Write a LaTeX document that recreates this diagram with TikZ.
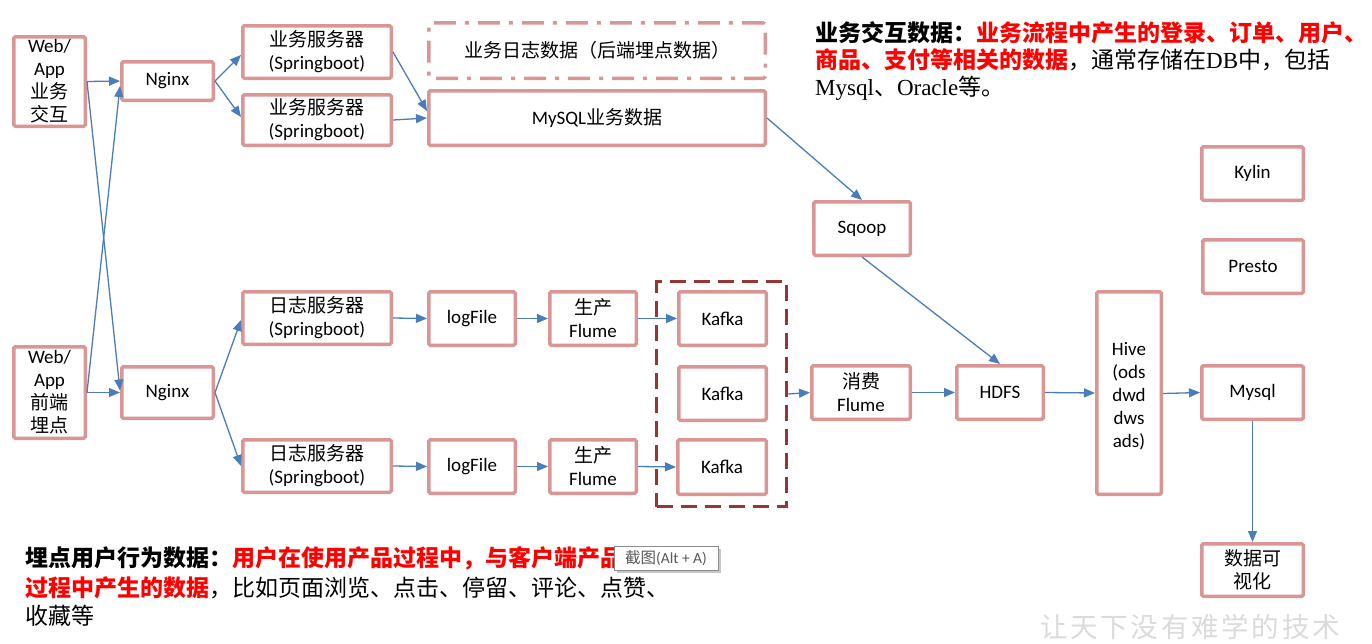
\documentclass[tikz,border=0pt]{standalone}
\usepackage{fontspec}
\setmainfont{Carlito}
\newfontfamily\cjk{Noto Sans CJK SC}
\newfontfamily\serifl{Liberation Serif}
\newfontfamily\wmfont[LetterSpace=10]{Noto Sans CJK SC}
\usetikzlibrary{arrows.meta}
\definecolor{boxpink}{HTML}{D99694}
\definecolor{arrblue}{HTML}{4A7EBB}
\definecolor{kafkared}{HTML}{953735}
\tikzset{
  box/.style={draw=boxpink, line width=3.5pt, fill=white, rounded corners=1.5pt,
    align=center, inner sep=0pt, font=\fontsize{19}{23}\selectfont},
  conn/.style={draw=arrblue, line width=1.3pt, -{Triangle[length=11pt,width=9pt]}},
  desc/.style={anchor=base west, inner sep=0pt, font=\fontsize{23}{27}\selectfont\cjk},
}
\begin{document}
\begin{tikzpicture}[x=1pt,y=-1pt]
\fill[white] (0,0) rectangle (1372,643);
\useasboundingbox (0,0) rectangle (1372,643);

% group box
\node[draw=kafkared, line width=3.5pt, dash pattern=on 16pt off 8pt, minimum width=130pt, minimum height=225pt, inner sep=0pt] (kgroup) at (721.5,394) {};

% top row
\node[box, minimum width=71.5pt, minimum height=89.5pt] (web1) at (49.5,81.5) {Web/\\App\\{\cjk 业务}\\{\cjk 交互}};
\node[box, minimum width=91.5pt, minimum height=38.5pt] (nginx1) at (167.5,81) {Nginx};
\node[box, minimum width=148.5pt, minimum height=52.5pt] (srv1) at (317,52) {{\cjk 业务服务器}\\(Springboot)};
\node[box, minimum width=148.5pt, minimum height=50.5pt] (srv2) at (317,120) {{\cjk 业务服务器}\\(Springboot)};
\node[box, dash pattern=on 22pt off 9pt on 4pt off 9pt, minimum width=336.5pt, minimum height=55.5pt] (bizlog) at (597,50.5) {{\cjk 业务日志数据（后端埋点数据）}};
\node[box, minimum width=336.5pt, minimum height=54.5pt] (bizdb) at (597,118) {MySQL{\cjk 业务数据}};
\node[box, minimum width=96.5pt, minimum height=53.5pt] (sqoop) at (862,228.5) {Sqoop};
\node[box, minimum width=101.5pt, minimum height=53.5pt] (kylin) at (1252.5,173.5) {Kylin};
\node[box, minimum width=100.5pt, minimum height=53.5pt] (presto) at (1253,266.5) {Presto};

% bottom rows
\node[box, minimum width=71.5pt, minimum height=91.5pt] (web2) at (49.5,392.5) {Web/\\App\\{\cjk 前端}\\{\cjk 埋点}};
\node[box, minimum width=91.5pt, minimum height=51.5pt] (nginx2) at (167.5,392.5) {Nginx};
\node[box, minimum width=148.5pt, minimum height=52.5pt] (log1) at (317,318) {{\cjk 日志服务器}\\(Springboot)};
\node[box, minimum width=148.5pt, minimum height=52.5pt] (log2) at (317,466) {{\cjk 日志服务器}\\(Springboot)};
\node[box, minimum width=86.5pt, minimum height=53.5pt] (lf1) at (472,318.5) {logFile};
\node[box, minimum width=86.5pt, minimum height=53.5pt] (lf2) at (472,466.5) {logFile};
\node[box, minimum width=86.5pt, minimum height=53.5pt] (fl1) at (593,318.5) {{\cjk 生产}\\Flume};
\node[box, minimum width=86.5pt, minimum height=53.5pt] (fl2) at (593,466.5) {{\cjk 生产}\\Flume};
\node[box, minimum width=87.5pt, minimum height=53.5pt] (k1) at (722.5,318.5) {Kafka};
\node[box, minimum width=87.5pt, minimum height=53.5pt] (k2) at (722.5,393.5) {Kafka};
\node[box, minimum width=88.5pt, minimum height=54.5pt] (k3) at (722,467) {Kafka};
\node[box, minimum width=98.5pt, minimum height=53.5pt] (xf) at (861,392.5) {{\cjk 消费}\\Flume};
\node[box, minimum width=86.5pt, minimum height=53.5pt] (hdfs) at (1000,392.5) {HDFS};
\node[box, minimum width=64.5pt, minimum height=202.5pt] (hive) at (1129,393) {\rule{0pt}{19pt}Hive\\(ods\\dwd\\dws\\ads)};
\node[box, minimum width=101.5pt, minimum height=53.5pt] (mysql) at (1252.5,392.5) {Mysql};
\node[box, minimum width=101.5pt, minimum height=52.5pt] (vis) at (1252.5,570) {{\cjk 数据可}\\{\cjk 视化}};

% connectors
\draw[conn] (web1.east) -- (nginx1.west);
\draw[conn] (web1.east) -- ([yshift=2pt]nginx2.west);
\draw[conn] (web2.east) -- (nginx2.west);
\draw[conn] (web2.east) -- ([yshift=-5pt]nginx1.west);
\draw[conn] (nginx1.east) -- ([yshift=-3pt]srv1.west);
\draw[conn] (nginx1.east) -- ([yshift=3pt]srv2.west);
\draw[conn] (srv1.east) -- ([yshift=7pt]bizdb.west);
\draw[conn] (srv2.east) -- (bizdb.west);
\draw[conn] (bizdb.east) -- (sqoop.north);
\draw[conn] (sqoop.south) -- (hdfs.north);
\draw[conn] (nginx2.east) -- ([yshift=-2pt]log1.west);
\draw[conn] (nginx2.east) -- (log2.west);
\draw[conn] (log1.east) -- (lf1.west);
\draw[conn] (lf1.east) -- (fl1.west);
\draw[conn] (fl1.east) -- (k1.west);
\draw[conn] (log2.east) -- (lf2.west);
\draw[conn] (lf2.east) -- (fl2.west);
\draw[conn] (fl2.east) -- (k3.west);
\draw[conn] (kgroup.east) -- (xf.west);
\draw[conn] (xf.east) -- (hdfs.west);
\draw[conn] (hdfs.east) -- (hive.west);
\draw[conn] ([yshift=-0.5pt]hive.east) -- (mysql.west);
\draw[conn] (mysql.south) -- (vis.north);

% descriptions
\node[desc] (t1) at (815,41) {\bfseries 业务交互数据：\textcolor{red}{业务流程中产生的登录、订单、用户、}};
\node[desc] (t2) at (815,68) {\textcolor{red}{\bfseries 商品、支付等相关的数据}，通常存储在{\serifl DB}中，包括};
\node[desc] (t3) at (815,95) {{\serifl Mysql}、{\serifl Oracle}等。};

\node[desc] (b1) at (25,566) {\bfseries 埋点用户行为数据：\textcolor{red}{用户在使用产品过程中，与客户端产品交互}};
\node[desc] (b2) at (25,596) {\textcolor{red}{\bfseries 过程中产生的数据}，比如页面浏览、点击、停留、评论、点赞、};
\node[desc] (b3) at (25,624) {收藏等};

% tooltip
\fill[black!22] (617,549) rectangle (721,573);
\node[draw=black!45, fill=white, line width=0.8pt, minimum width=104pt, minimum height=24pt, inner sep=0pt,
  font=\fontsize{15.5}{15.5}\selectfont, text=black!65] (tip) at (666,558) {{\cjk 截图}(Alt + A)};

% watermark
\node[font=\fontsize{27.5}{27.5}\selectfont\wmfont, text=black!14, anchor=base west, inner sep=0pt] (wm) at (1040,637) {让天下没有难学的技术};
\end{tikzpicture}
\end{document}
